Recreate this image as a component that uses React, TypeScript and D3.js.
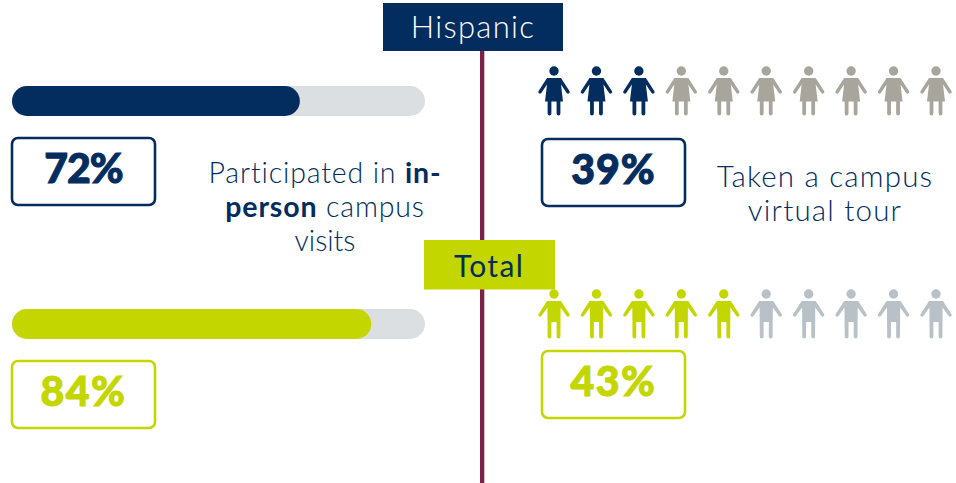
import * as d3 from "d3";

// values
const groups = ["Hispanic", "Total"];
const visitLabels = ["72%", "84%"];
const visitBars = [69.7, 87];
const tourLabels = ["39%", "43%"];
const iconsFilled = [3, 5];
const iconSlots = d3.range(10);

const width = 956;
const height = 483;
const font = "Lato, 'Open Sans', sans-serif";

const navy = "#022d5e";
const lime = "#c4d600";
const maroon = "#7c2246";
const track = "#dcdfe2";
const restIcon = ["#a8a59c", "#b9c1c8"];
const accent = [navy, lime];

const barX = d3.scaleLinear().domain([0, 100]).range([12, 425]);
const iconX = d3.scalePoint<number>().domain(iconSlots).range([554, 936]);

// y positions per group
const barY = [86, 309];
const iconY = [60, 283];
const leftBoxY = [138, 361];
const rightBoxY = [139, 351];
const barH = 30;
const boxW = 143;
const boxH = 67;
// lato digits are narrower/wider than the original font, nudged per label
const leftSpacing = [-1, 1.5];
const rightSpacing = [1, 1.5];

const womanBody =
  "M-7 18 L7 18 L15.4 31 A1.6 1.6 0 0 1 12.7 33 L7 24.5 L9 41.5 L6.4 41.5 L6.4 53.5 A1.9 1.9 0 0 1 2.6 53.5 L2.6 41.5 L-2.6 41.5 L-2.6 53.5 A1.9 1.9 0 0 1 -6.4 53.5 L-6.4 41.5 L-9 41.5 L-7 24.5 L-12.7 33 A1.6 1.6 0 0 1 -15.4 31 Z";
const manBody =
  "M-7 18 L7 18 L15.4 31 A1.6 1.6 0 0 1 12.7 33 L6.6 24.5 L6.4 53.5 A1.9 1.9 0 0 1 2.6 53.5 L2.6 39 L-2.6 39 L-2.6 53.5 A1.9 1.9 0 0 1 -6.4 53.5 L-6.6 24.5 L-12.7 33 A1.6 1.6 0 0 1 -15.4 31 Z";

function Person({ x, y, fill, man }: { x: number; y: number; fill: string; man: boolean }) {
  return (
    <g transform={`translate(${x},${y})`} fill={fill}>
      <circle cx={0} cy={11} r={4.7} />
      <path d={man ? manBody : womanBody} />
    </g>
  );
}

function ValueBox({ x, y, label, color, spacing }: { x: number; y: number; label: string; color: string; spacing: number }) {
  return (
    <g>
      <rect x={x} y={y} width={boxW} height={boxH} rx={6} fill="#fff" stroke={color} strokeWidth={2.6} />
      <text
        x={x + boxW / 2}
        y={y + boxH / 2 + 11}
        textAnchor="middle"
        fontSize={41}
        fontWeight={900}
        letterSpacing={spacing}
        fill={color}
        stroke={color}
        strokeWidth={1}
      >
        {label}
      </text>
    </g>
  );
}

export default function App() {
  return (
    <svg
      width={width}
      height={height}
      viewBox={`0 0 ${width} ${height}`}
      style={{ position: "absolute", left: 0, top: 0, background: "#fff" }}
      fontFamily={font}
    >
      <rect x={480} y={50} width={4.3} height={433} fill={maroon} />

      <rect x={383} y={3} width={180} height={48} fill={navy} />
      <text x={473} y={38} textAnchor="middle" fontSize={31} fontWeight={300} letterSpacing={1.3} fill="#fff">
        {groups[0]}
      </text>

      {groups.map((g, i) => (
        <g key={g}>
          <rect x={barX(0)} y={barY[i]} width={barX(100) - barX(0)} height={barH} rx={barH / 2} fill={track} />
          <rect x={barX(0)} y={barY[i]} width={barX(visitBars[i]) - barX(0)} height={barH} rx={barH / 2} fill={accent[i]} />
          <ValueBox x={12} y={leftBoxY[i]} label={visitLabels[i]} color={accent[i]} spacing={leftSpacing[i]} />
          <ValueBox x={542} y={rightBoxY[i]} label={tourLabels[i]} color={accent[i]} spacing={rightSpacing[i]} />
          {iconSlots.map((s) => (
            <Person
              key={s}
              x={iconX(s) as number}
              y={iconY[i]}
              man={i === 1}
              fill={s < iconsFilled[i] ? accent[i] : restIcon[i]}
            />
          ))}
        </g>
      ))}

      <g fontWeight={300} fill={navy} textAnchor="middle" fontSize={28.5}>
        <text x={325} y={183} letterSpacing={0.85}>
          Participated in <tspan fontWeight={700}>in-</tspan>
        </text>
        <text x={325} y={217} letterSpacing={0.85}>
          <tspan fontWeight={700}>person</tspan> campus
        </text>
        <text x={325} y={251}>visits</text>
        <text x={825} y={187} fontSize={29.5} letterSpacing={1.2}>Taken a campus</text>
        <text x={825} y={221} fontSize={29.5} letterSpacing={1.2}>virtual tour</text>
      </g>

      <rect x={424} y={240} width={131} height={49.5} fill={lime} />
      <text x={489} y={276.5} textAnchor="middle" fontSize={30} fontWeight={400} letterSpacing={1.3} fill={navy}>
        {groups[1]}
      </text>
    </svg>
  );
}
